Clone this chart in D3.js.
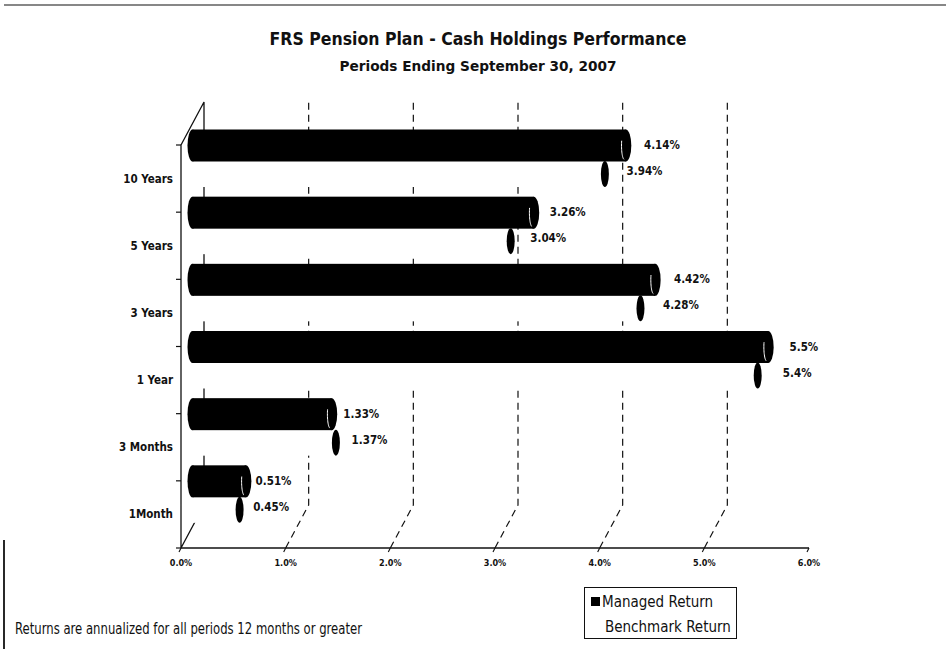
<!DOCTYPE html>
<html>
<head>
<meta charset="utf-8">
<script src="https://cdn.jsdelivr.net/npm/d3@7"></script>
<style>
    body { margin: 0; background: #fff; }
    svg { display: block; }
    .cond { font-family: "DejaVu Sans Condensed", "DejaVu Sans", sans-serif; font-stretch: condensed; }
    .narrow { font-family: "Liberation Sans Narrow", "DejaVu Sans Condensed", "DejaVu Sans", sans-serif; font-stretch: condensed; }
</style>
</head>
<body>
<div id="chart"></div>
<script>
const categories = ['10 Years', '5 Years', '3 Years', '1 Year', '3 Months', '1Month'];
const managedReturn = [4.14, 3.26, 4.42, 5.5, 1.33, 0.51];
const benchmarkReturn = [3.94, 3.04, 4.28, 5.4, 1.37, 0.45];
const managedLabels = ['4.14%', '3.26%', '4.42%', '5.5%', '1.33%', '0.51%'];
const benchmarkLabels = ['3.94%', '3.04%', '4.28%', '5.4%', '1.37%', '0.45%'];
const xTicks = [0, 1, 2, 3, 4, 5, 6];
const xTickLabels = ['0.0%', '1.0%', '2.0%', '3.0%', '4.0%', '5.0%', '6.0%'];
const seriesNames = ['Managed Return', 'Benchmark Return'];

const W = 946, H = 649;
const DEPTH_X = 23, DEPTH_Y = 43; // offset of the back wall

const svg = d3.select('#chart').append('svg')
    .attr('width', W).attr('height', H);

const x = d3.scaleLinear().domain([0, 6]).range([181, 809]);
const y = d3.scaleBand().domain(categories).range([145, 548]);
const bw = y.bandwidth();
// data labels sit a bit further out, following the perspective
const managedLabelX = d3.scaleLinear().domain([0, 6]).range([201, 843]);
const benchmarkLabelX = d3.scaleLinear().domain([0, 6]).range([205, 847]);

const floorY = y.range()[1];
const topY = y.range()[0];

function fitWidth(sel, width) {
    const len = sel.node().getComputedTextLength();
    if (Math.abs(len - width) / width > 0.03) {
        sel.attr('textLength', width).attr('lengthAdjust', 'spacingAndGlyphs');
    }
}

// frame bits from the scan
svg.append('line').attr('x1', 4).attr('x2', W).attr('y1', 5).attr('y2', 5)
    .attr('stroke', '#111').attr('stroke-width', 1.2);
svg.append('line').attr('x1', 4).attr('x2', 4).attr('y1', 540).attr('y2', H)
    .attr('stroke', '#111').attr('stroke-width', 1.8);

// titles
const title = svg.append('text').attr('class', 'cond')
    .attr('x', 478).attr('y', 45).attr('text-anchor', 'middle')
    .attr('font-size', 17.5).attr('font-weight', 'bold').attr('fill', '#111')
    .text('FRS Pension Plan - Cash Holdings Performance');
fitWidth(title, 420);
const subtitle = svg.append('text').attr('class', 'cond')
    .attr('x', 478).attr('y', 71).attr('text-anchor', 'middle')
    .attr('font-size', 13.5).attr('font-weight', 'bold').attr('fill', '#111')
    .text('Periods Ending September 30, 2007');
fitWidth(subtitle, 277);

// gridlines on the back wall, running down and forward on the floor
const grid = svg.append('g');
grid.selectAll('path.grid')
    .data(xTicks.filter(v => v > 0 && v < 6))
    .join('path')
    .attr('class', 'grid')
    .attr('d', v => `M${x(v)},${floorY} L${x(v) + DEPTH_X},${floorY - DEPTH_Y} L${x(v) + DEPTH_X},${topY - DEPTH_Y}`)
    .attr('fill', 'none')
    .attr('stroke', '#111')
    .attr('stroke-width', 1.2)
    .attr('stroke-dasharray', '7,5');

// left wall outline and floor edge
const x0 = x(0);
grid.append('path')
    .attr('d', `M${x0},${topY} L${x0 + DEPTH_X},${topY - DEPTH_Y} L${x0 + DEPTH_X},${floorY - DEPTH_Y} L${x0},${floorY} Z`)
    .attr('fill', 'none').attr('stroke', '#111').attr('stroke-width', 1.3);
grid.append('line')
    .attr('x1', x0).attr('x2', x(6)).attr('y1', floorY).attr('y2', floorY)
    .attr('stroke', '#111').attr('stroke-width', 1.5);
grid.selectAll('line.ytick')
    .data(categories.map(c => y(c)).concat([floorY]))
    .join('line')
    .attr('class', 'ytick')
    .attr('x1', x0 - 5).attr('x2', x0).attr('y1', d => d).attr('y2', d => d)
    .attr('stroke', '#111').attr('stroke-width', 1.2);
grid.selectAll('line.xtick')
    .data(xTicks)
    .join('line')
    .attr('class', 'xtick')
    .attr('x1', v => x(v)).attr('x2', v => x(v) - 2)
    .attr('y1', floorY).attr('y2', floorY + 4)
    .attr('stroke', '#111').attr('stroke-width', 1.1);

// axis labels
svg.append('g').selectAll('text')
    .data(xTicks)
    .join('text')
    .attr('class', 'cond')
    .attr('x', v => x(v)).attr('y', floorY + 18)
    .attr('text-anchor', 'middle')
    .attr('font-size', 9).attr('font-weight', 'bold').attr('fill', '#111')
    .text((v, i) => xTickLabels[i]);

svg.append('g').selectAll('text')
    .data(categories)
    .join('text')
    .attr('class', 'cond')
    .attr('x', x0 - 8).attr('y', c => y(c) + bw / 2)
    .attr('dy', '0.35em')
    .attr('text-anchor', 'end')
    .attr('font-size', 11.5).attr('font-weight', 'bold').attr('fill', '#111')
    .text(c => c);

// cylinders, drawn half way into the depth
const barX = v => x(v) + DEPTH_X / 2;
const MANAGED_RY = 16, BENCH_RY = 14, CAP_RX = 5;

const rows = svg.append('g').selectAll('g.row')
    .data(categories.map((c, i) => ({
        cat: c,
        managed: managedReturn[i],
        bench: benchmarkReturn[i],
        mLabel: managedLabels[i],
        bLabel: benchmarkLabels[i]
    })))
    .join('g')
    .attr('class', 'row');

rows.each(function (d) {
    const g = d3.select(this);
    const front = y(d.cat);
    const bcy = front + 28;
    const mcy = front + 0.5;

    // benchmark: light body (prints white), dark end cap
    g.append('rect')
        .attr('x', barX(0)).attr('y', bcy - BENCH_RY)
        .attr('width', barX(d.bench) - barX(0)).attr('height', BENCH_RY * 2)
        .attr('fill', '#fff');
    g.append('ellipse')
        .attr('cx', barX(d.bench)).attr('cy', bcy + 1)
        .attr('rx', 4).attr('ry', BENCH_RY - 1)
        .attr('fill', '#000');

    // managed: solid black cylinder
    g.append('ellipse')
        .attr('cx', barX(0)).attr('cy', mcy)
        .attr('rx', CAP_RX).attr('ry', MANAGED_RY)
        .attr('fill', '#000');
    g.append('rect')
        .attr('x', barX(0)).attr('y', mcy - MANAGED_RY)
        .attr('width', barX(d.managed) - barX(0)).attr('height', MANAGED_RY * 2)
        .attr('fill', '#000');
    g.append('ellipse')
        .attr('cx', barX(d.managed)).attr('cy', mcy)
        .attr('rx', CAP_RX + 0.5).attr('ry', MANAGED_RY)
        .attr('fill', '#000');
    // white rim where the end face meets the body
    const arc = d3.range(-20, 86, 6).map(t => {
        const r = t * Math.PI / 180;
        return [barX(d.managed) - 1.5 - (CAP_RX - 1) * Math.cos(r) * 0.7, mcy + (MANAGED_RY - 2) * Math.sin(r)];
    });
    g.append('path')
        .attr('d', d3.line()(arc))
        .attr('fill', 'none').attr('stroke', '#fff').attr('stroke-width', 1);

    g.append('text').attr('class', 'cond')
        .attr('x', managedLabelX(d.managed)).attr('y', front)
        .attr('dy', '0.35em')
        .attr('font-size', 11.5).attr('font-weight', 'bold').attr('fill', '#111')
        .text(d.mLabel);
    g.append('text').attr('class', 'cond')
        .attr('x', benchmarkLabelX(d.bench)).attr('y', front + 26)
        .attr('dy', '0.35em')
        .attr('font-size', 11.5).attr('font-weight', 'bold').attr('fill', '#111')
        .text(d.bLabel);
});

// footnote
const note = svg.append('text').attr('class', 'narrow')
    .attr('x', 15).attr('y', 634)
    .attr('font-size', 15).attr('fill', '#111')
    .text('Returns are annualized for all periods 12 months or greater');
fitWidth(note, 347);

// legend
const legend = svg.append('g');
legend.append('rect')
    .attr('x', 584.5).attr('y', 587.5).attr('width', 152).attr('height', 51)
    .attr('fill', '#fff').attr('stroke', '#111').attr('stroke-width', 1);
legend.append('rect')
    .attr('x', 591).attr('y', 597).attr('width', 9).attr('height', 9)
    .attr('fill', '#000');
const legendWidths = [114, 127];
legend.selectAll('text')
    .data(seriesNames)
    .join('text')
    .attr('class', 'narrow')
    .attr('x', (d, i) => i === 0 ? 602 : 605)
    .attr('y', (d, i) => 607 + i * 25)
    .attr('font-size', 15).attr('fill', '#111')
    .text(d => d)
    .each(function (d, i) { fitWidth(d3.select(this), legendWidths[i]); });
</script>
</body>
</html>
